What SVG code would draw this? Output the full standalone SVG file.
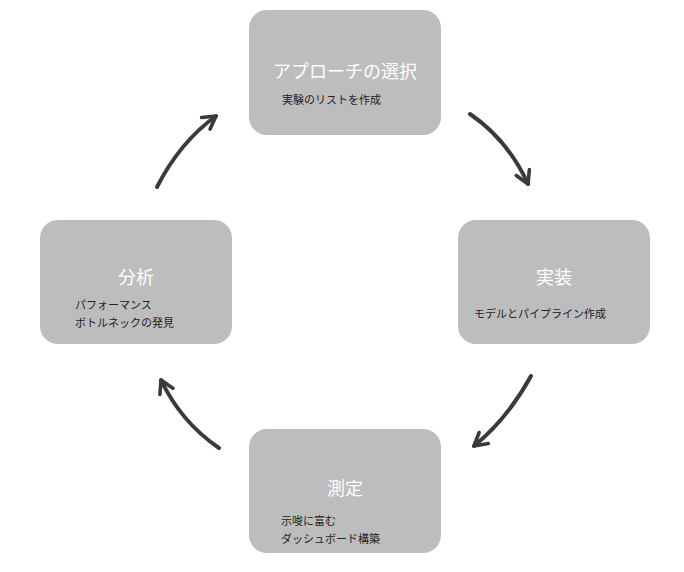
<svg xmlns="http://www.w3.org/2000/svg" width="684" height="572" viewBox="0 0 684 572">
<style>
.n{fill:#bdbdbd}
.t{font-family:"Noto Sans CJK JP",sans-serif;font-size:18px;fill:#fff;text-anchor:middle}
.s{font-family:"Noto Sans CJK JP",sans-serif;font-size:11px;fill:#222}
.c path{fill:none;stroke:#3a3a3a;stroke-width:4;stroke-linecap:round}
</style>
<defs><marker id="a" viewBox="0 0 10 10" refX="8" refY="5" markerWidth="4.5" markerHeight="4.5" orient="auto" markerUnits="strokeWidth"><path d="M1,1 L8,5 L1,9" fill="none" stroke="#3a3a3a" stroke-width="2" stroke-linecap="round" stroke-linejoin="round"/></marker></defs>
<rect width="684" height="572" fill="#fff"/>
<g id="n1"><rect class="n" x="249" y="10" width="192" height="125" rx="18"/><text class="t" x="345" y="78">アプローチの選択</text><text class="s" x="282" y="104">実験のリストを作成</text></g>
<g id="n2"><rect class="n" x="458" y="220" width="192" height="124" rx="18"/><text class="t" x="554" y="284">実装</text><text class="s" x="474" y="318">モデルとパイプライン作成</text></g>
<g id="n3"><rect class="n" x="249" y="429" width="192" height="124" rx="18"/><text class="t" x="345" y="495">測定</text><text class="s" x="281" y="525">示唆に富む</text><text class="s" x="281" y="543">ダッシュボード構築</text></g>
<g id="n4"><rect class="n" x="40" y="220" width="192" height="124" rx="18"/><text class="t" x="136" y="284">分析</text><text class="s" x="75" y="309">パフォーマンス</text><text class="s" x="75" y="327">ボトルネックの発見</text></g>
<g class="c">
<path d="M470,114 Q508,140 528,184" marker-end="url(#a)"/>
<path d="M531,376 Q508,418 474,446" marker-end="url(#a)"/>
<path d="M219,448 Q181,422 161,380" marker-end="url(#a)"/>
<path d="M157,187 Q180,142 216,116" marker-end="url(#a)"/>
</g>
</svg>
